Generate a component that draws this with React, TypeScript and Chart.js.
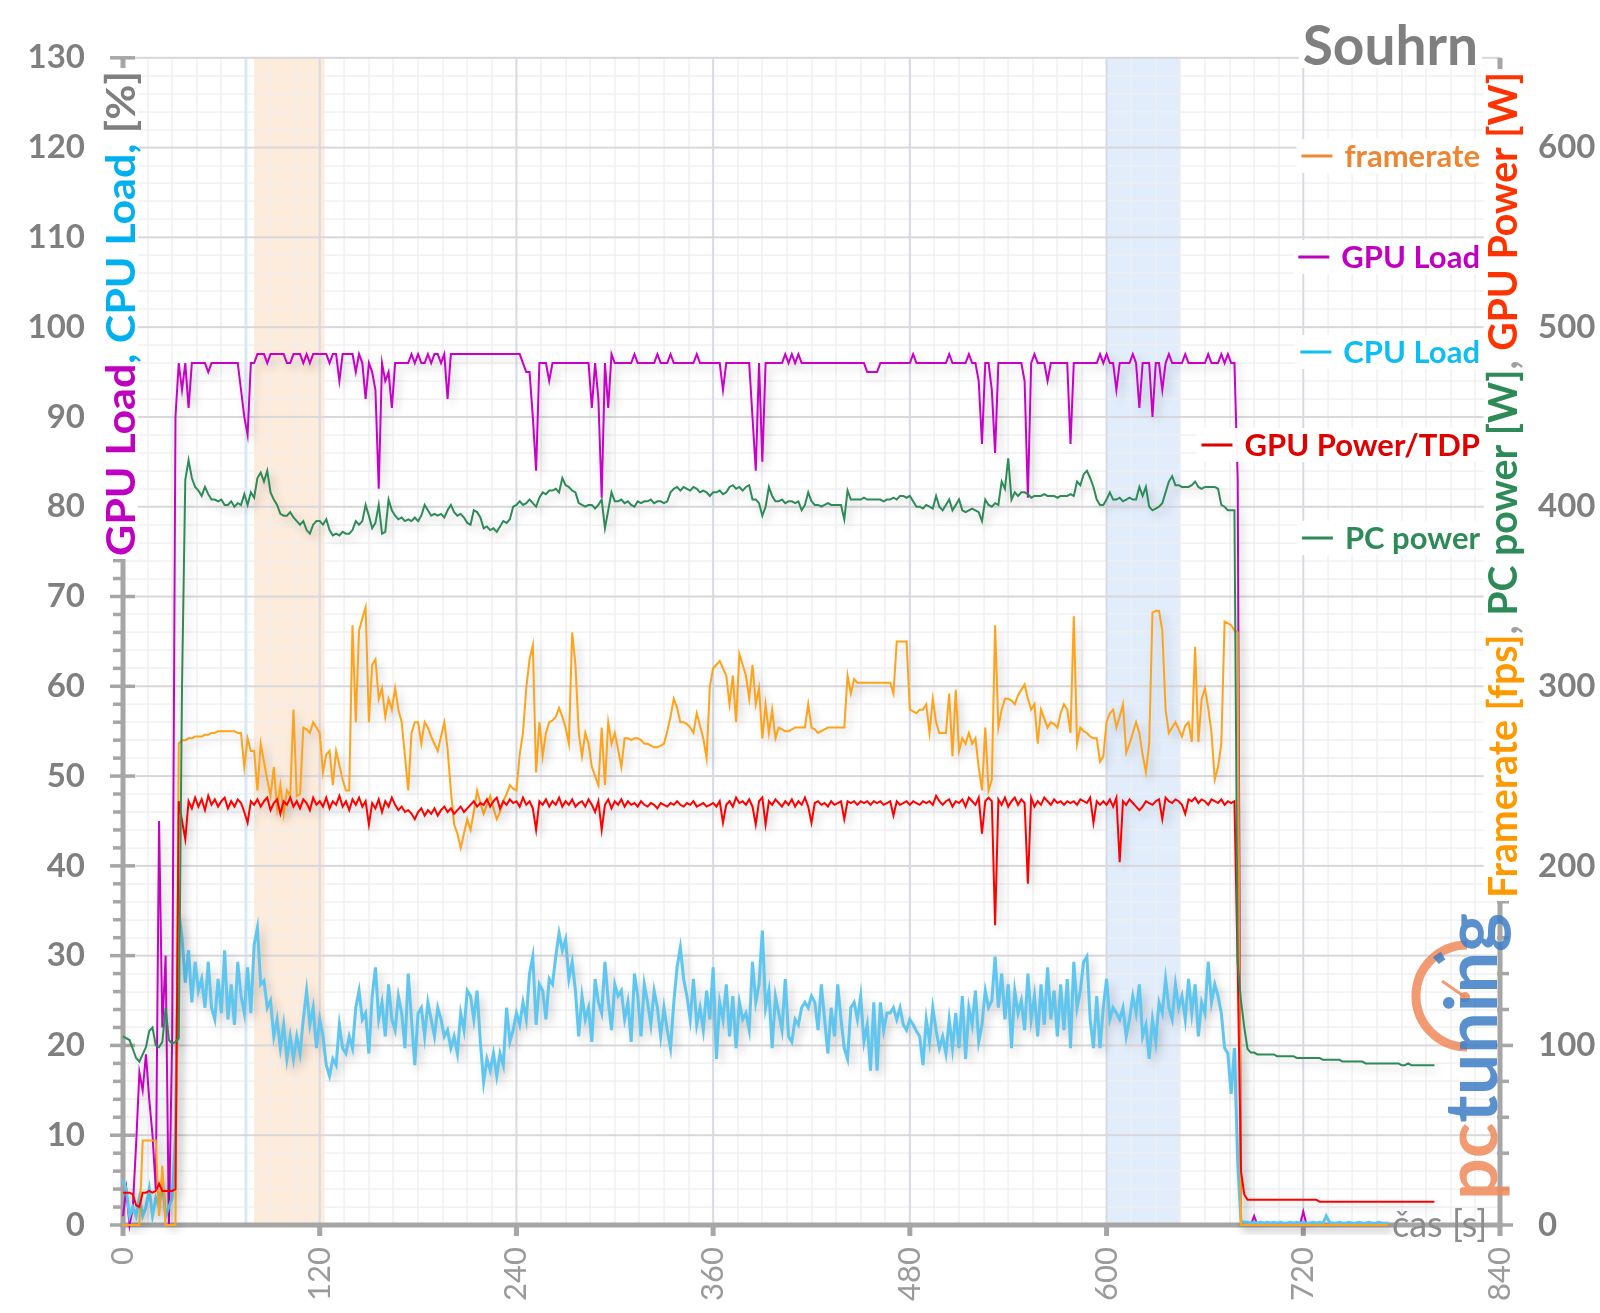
import React, { useEffect, useRef } from 'react';
import { Chart, registerables } from 'chart.js';

Chart.register(...registerables);

// ---------- data (sample interval STEP seconds, first sample at t = 0) ----------
const STEP = 2;

const GPU_LOAD = [
  1, 4, 0, 2, 9, 17, 15, 19, 14, 10,
  4, 45, 22, 30, 0, 21, 90, 96, 93, 96,
  91, 96, 96, 96, 96, 96, 95, 96, 96, 96,
  96, 96, 96, 96, 96, 96, 93, 90, 88, 96,
  96, 97, 97, 97, 96, 97, 97, 97, 97, 97,
  96, 96, 97, 97, 97, 96, 97, 96, 97, 97,
  97, 97, 97, 96, 97, 97, 94, 97, 97, 97,
  97, 95, 97, 96, 92, 96, 95, 93, 82, 96,
  94, 95, 91, 96, 96, 96, 96, 96, 97, 96,
  97, 96, 96, 97, 96, 97, 97, 96, 97, 92,
  97, 97, 97, 97, 97, 97, 97, 97, 97, 97,
  97, 97, 97, 97, 97, 97, 97, 97, 97, 97,
  97, 97, 96, 95, 95, 90, 84, 96, 96, 96,
  94, 96, 96, 96, 96, 96, 96, 96, 96, 96,
  96, 96, 96, 91, 96, 92, 81, 96, 91, 97,
  96, 96, 96, 96, 96, 96, 97, 96, 96, 96,
  96, 96, 96, 97, 96, 96, 96, 97, 96, 96,
  96, 96, 96, 96, 96, 97, 96, 96, 96, 96,
  96, 96, 96, 93, 96, 96, 96, 96, 96, 96,
  96, 96, 90, 84, 96, 85, 96, 96, 96, 96,
  96, 96, 97, 96, 97, 96, 97, 96, 96, 96,
  96, 96, 96, 96, 96, 96, 96, 96, 96, 96,
  96, 96, 96, 96, 96, 96, 96, 95, 95, 95,
  95, 96, 96, 96, 96, 96, 96, 96, 96, 96,
  96, 97, 96, 96, 96, 96, 96, 96, 96, 96,
  96, 96, 97, 96, 96, 96, 96, 96, 97, 96,
  96, 94, 87, 96, 96, 93, 86, 96, 96, 96,
  96, 96, 96, 96, 96, 94, 81, 96, 97, 96,
  96, 96, 94, 96, 96, 96, 96, 96, 96, 87,
  96, 96, 96, 96, 96, 96, 96, 96, 97, 96,
  97, 96, 96, 93, 96, 96, 96, 96, 97, 96,
  91, 96, 96, 96, 90, 96, 96, 93, 96, 97,
  96, 96, 96, 96, 97, 96, 96, 96, 96, 96,
  96, 97, 96, 96, 96, 97, 96, 97, 96, 96,
  83, 0, 0, 0, 0, 1, 0, 0, 0, 0,
  0, 0, 0, 0, 0, 0, 0, 0, 0, 0,
  1.5, 0, 0, 0, 0, 0, 0, 0, 0, 0,
  0, 0, 0, 0, 0, 0, 0, 0, 0, 0,
  0, 0, 0, 0, 0, 0, 0,
];

const CPU_LOAD = [
  5, 4, 1, 2, 1, 3, 1, 2, 4, 1,
  3, 2, 5, 1, 2, 3, 10, 35, 32, 27,
  30.6, 24.8, 29.3, 26.1, 27.4, 24.2, 29.3, 24.2, 22.9, 27.4,
  23.6, 30.6, 22.9, 26.8, 22.3, 29.3, 25.5, 23.6, 28.7, 23.6,
  31.2, 33.1, 26.8, 27.2, 24.2, 25, 21, 22.9, 19.7, 22.3,
  18.5, 21, 18.5, 21, 19.1, 22.9, 26.1, 22.3, 24.2, 19.7,
  22.9, 21, 17.8, 16.6, 18.5, 17.8, 22.3, 19.7, 19.1, 21,
  19.7, 24.2, 26.1, 22.9, 23.6, 19.1, 25.5, 28.7, 22.9, 24.8,
  21, 26.8, 22.9, 21.7, 25.5, 23.6, 19.7, 28, 22.9, 17.8,
  23.6, 24.2, 21, 24.8, 22.9, 21, 24.2, 22.9, 21, 21.7,
  19.7, 21, 19.1, 23.6, 21.7, 26.1, 25.5, 22.9, 26.1, 20.4,
  15.9, 18.5, 17.2, 19.1, 16.6, 19.1, 17.8, 24.2, 20.4, 21.7,
  23.6, 22.3, 24.8, 22.9, 28, 29.9, 22.3, 26.8, 26.1, 22.9,
  27.4, 26.8, 29.9, 32.5, 30.6, 31.8, 27.4, 29.3, 26.1, 21,
  25.5, 22.9, 24.2, 20.4, 27.4, 24.8, 23.6, 29.3, 25, 21.7,
  26.8, 25.5, 26.1, 22.9, 24.8, 20.4, 28, 25.5, 21, 26.8,
  24.8, 22.3, 26.1, 24.2, 21, 24.2, 21.7, 19.7, 24.8, 28.7,
  30.9, 27.4, 25.5, 22.9, 27.4, 22.3, 24.2, 21.7, 26.1, 22.9,
  28.7, 18.5, 24.8, 22.9, 26.8, 21, 25.5, 19.7, 24.8, 22.9,
  23.6, 21.7, 29.3, 24.8, 26.8, 32.8, 24.2, 26.1, 19.7, 25.5,
  23.6, 21.7, 27.4, 21, 20.4, 22.9, 22.3, 24.2, 24.8, 24.2,
  25.5, 24.8, 21.7, 26.8, 22.9, 19.1, 24.2, 21, 26.8, 22.9,
  19.7, 18.5, 24.2, 24.8, 22.9, 25.5, 20.4, 22.3, 17.2, 24.8,
  17.2, 24.8, 21.7, 23.6, 23.6, 24.2, 22.9, 24.2, 22.3, 21.7,
  22.9, 22.3, 21.6, 21, 17.8, 22.9, 20.4, 24.2, 21.7, 19.7,
  21, 19.1, 22.9, 19.7, 23.6, 19.7, 25.5, 18.5, 24.2, 22.3,
  26.1, 20.4, 22.3, 26.1, 24.2, 25, 29.9, 24.2, 28, 22.9,
  26.8, 19.7, 26.1, 23.6, 25, 21.7, 28, 22.9, 25.5, 21,
  26.8, 22.3, 28.7, 22.9, 26.1, 21, 26.8, 21.7, 27.4, 19.7,
  29.3, 24.2, 26.1, 29.3, 29.9, 22.9, 19.7, 25.5, 19.7, 24.2,
  27.4, 22.9, 24.2, 23.6, 22.9, 24.2, 21, 22.9, 25.5, 23.6,
  26.8, 21, 22.3, 18.5, 22.9, 20.4, 24.8, 23.6, 27.4, 24.2,
  22.9, 26.8, 24.2, 25.5, 22.9, 27.4, 23.6, 26.8, 21, 24.8,
  23.6, 29.3, 24.8, 26.8, 25.5, 23.6, 19.7, 19.1, 14.6, 19.7,
  7, 0.4, 0.3, 0.3, 0.2, 0.3, 0.2, 0.3, 0.2, 0.3,
  0.2, 0.3, 0.2, 0.3, 0.2, 0.2, 0.3, 0.2, 0.3, 0.2,
  0.3, 0.2, 0.2, 0.3, 0.2, 0.3, 0.2, 1, 0.3, 0.2,
  0.2, 0.3, 0.2, 0.2, 0.3, 0.2, 0.2, 0.3, 0.2, 0.2,
  0.3, 0.2, 0.2, 0.3, 0.2, 0.2, 0.2,
];

const FRAMERATE = [
  0, 0, 0, 0, 0, 0, 47, 47, 47, 47,
  47, 5, 33, 0, 0, 0, 0, 268, 270, 270,
  271, 271, 272, 272, 272, 273, 273, 274, 274, 275,
  275, 275, 275, 275, 275, 274, 274, 255, 271, 264,
  264, 242, 268, 258, 248, 239, 255, 232, 245, 229,
  242, 239, 287, 239, 240, 277, 276, 274, 280, 277,
  274, 252, 262, 264, 245, 264, 256, 248, 242, 242,
  334, 280, 331, 338, 344, 280, 312, 315, 293, 299,
  283, 293, 287, 299, 287, 280, 261, 242, 274, 280,
  280, 268, 280, 277, 272, 268, 264, 272, 280, 265,
  242, 223, 218, 210, 218, 226, 220, 230, 242, 235,
  229, 234, 239, 232, 226, 230, 236, 240, 245, 243,
  242, 262, 274, 299, 315, 323, 252, 280, 261, 274,
  280, 281, 283, 288, 283, 277, 268, 330, 312, 274,
  261, 274, 268, 255, 250, 245, 277, 245, 280, 268,
  274, 265, 255, 271, 271, 270, 271, 271, 270, 268,
  268, 267, 266, 266, 267, 268, 275, 283, 293, 288,
  280, 280, 279, 277, 274, 285, 278, 271, 260, 300,
  310, 312, 314, 310, 306, 290, 306, 280, 318, 312,
  306, 293, 312, 290, 299, 271, 290, 274, 287, 271,
  277, 276, 275, 275, 276, 277, 277, 277, 277, 290,
  277, 276, 274, 275, 276, 277, 277, 277, 277, 277,
  277, 306, 296, 304, 302, 302, 302, 302, 302, 302,
  302, 302, 302, 302, 302, 296, 325, 325, 325, 325,
  287, 286, 285, 287, 287, 290, 274, 293, 280, 274,
  274, 274, 296, 261, 298, 264, 271, 268, 274, 268,
  271, 255, 242, 277, 242, 248, 334, 277, 287, 293,
  293, 292, 290, 295, 298, 301, 293, 287, 290, 268,
  287, 282, 277, 280, 279, 277, 285, 290, 287, 274,
  339, 268, 277, 275, 274, 272, 271, 271, 258, 261,
  280, 285, 287, 277, 283, 290, 263, 268, 274, 280,
  274, 262, 252, 268, 341, 342, 342, 331, 287, 274,
  277, 280, 276, 272, 278, 280, 269, 322, 269, 293,
  299, 288, 274, 248, 255, 268, 336, 335, 334, 331,
  330, 0, 0, 0, 0, 0, 0, 0, 0, 0,
  0, 0, 0, 0, 0, 0, 0, 0, 0, 0,
  0, 0, 0, 0, 0, 0, 0, 0, 0, 0,
  0, 0, 0, 0, 0, 0, 0, 0, 0, 0,
  0, 0, 0, 0, 0, 0, 0,
];

const GPU_POWER = [
  18, 18, 18, 17, 11, 10, 18, 18, 19, 18,
  19, 23, 19, 19, 19, 19, 20, 236, 225, 215,
  236, 232, 238, 233, 237, 231, 239, 234, 237, 233,
  236, 238, 232, 236, 233, 237, 235, 230, 224, 236,
  234, 237, 233, 236, 238, 231, 235, 237, 229, 236,
  234, 238, 233, 236, 232, 237, 235, 231, 238, 234,
  236, 233, 238, 232, 236, 234, 239, 233, 236, 231,
  237, 234, 238, 233, 236, 223, 235, 232, 237, 230,
  236, 233, 238, 234, 231, 233, 230, 231, 229, 226,
  230, 232, 228, 231, 229, 232, 228, 231, 233, 230,
  232, 229, 231, 233, 230, 232, 234, 236, 233, 235,
  234, 237, 233, 236, 238, 232, 236, 234, 237, 235,
  236, 233, 238, 234, 236, 232, 220, 236, 234, 237,
  233, 236, 234, 238, 233, 236, 234, 237, 233, 235,
  236, 233, 237, 234, 230, 236, 220, 234, 237, 232,
  236, 234, 237, 233, 236, 234, 235, 233, 236, 234,
  233, 235, 234, 232, 235, 234, 233, 235, 234, 236,
  234, 233, 235, 234, 236, 233, 234, 235, 233, 234,
  235, 233, 236, 224, 234, 236, 233, 238, 235, 236,
  234, 237, 233, 223, 236, 238, 223, 236, 234, 237,
  235, 233, 236, 234, 237, 233, 236, 234, 238, 233,
  224, 235, 236, 234, 235, 233, 236, 234, 235, 236,
  226, 236, 235, 236, 234, 236, 235, 236, 234, 236,
  235, 236, 234, 235, 236, 228, 236, 234, 235, 236,
  234, 236, 235, 234, 236, 235, 236, 234, 239, 236,
  234, 236, 237, 233, 236, 235, 237, 233, 238, 236,
  234, 238, 218, 236, 238, 236, 167, 237, 234, 238,
  233, 236, 238, 234, 237, 235, 190, 238, 233, 236,
  234, 238, 236, 234, 237, 235, 236, 234, 236, 235,
  236, 234, 237, 236, 235, 238, 224, 236, 234, 236,
  234, 237, 233, 238, 202, 236, 234, 237, 235, 233,
  231, 233, 236, 235, 234, 236, 237, 226, 238, 236,
  235, 237, 236, 234, 229, 237, 236, 238, 235, 237,
  236, 234, 237, 236, 235, 237, 234, 236, 235, 236,
  143, 30, 17, 14, 14, 14, 14, 14, 14, 14,
  14, 14, 14, 14, 14, 14, 14, 14, 14, 14,
  14, 14, 14, 14, 14, 13, 13, 13, 13, 13,
  13, 13, 13, 13, 13, 13, 13, 13, 13, 13,
  13, 13, 13, 13, 13, 13, 13, 13, 13, 13,
  13, 13, 13, 13, 13, 13, 13, 13, 13, 13,
  13,
];

const PC_POWER = [
  105, 104, 103, 98, 93, 91, 95, 99, 108, 110,
  100, 99, 102, 121, 103, 101, 102, 104, 300, 415,
  426, 416, 411, 409, 406, 411, 407, 404, 404, 403,
  404, 401, 401, 403, 400, 402, 401, 407, 401, 408,
  405, 416, 419, 414, 420, 408, 404, 401, 396, 395,
  395, 397, 394, 392, 390, 392, 387, 385, 390, 392,
  392, 390, 393, 387, 384, 385, 384, 386, 385, 385,
  387, 392, 390, 392, 401, 395, 388, 391, 401, 385,
  386, 404, 398, 395, 393, 394, 392, 393, 392, 394,
  392, 395, 401, 398, 395, 396, 395, 396, 394, 398,
  401, 397, 395, 396, 394, 391, 390, 398, 397, 394,
  388, 389, 387, 388, 386, 389, 392, 391, 393, 400,
  401, 403, 401, 402, 404, 402, 400, 405, 408, 407,
  409, 409, 410, 408, 416, 412, 411, 409, 408, 402,
  401, 400, 401, 401, 399, 401, 404, 388, 398, 408,
  403, 403, 404, 402, 403, 401, 400, 403, 402, 403,
  403, 404, 402, 403, 403, 402, 403, 408, 410, 411,
  409, 411, 410, 409, 411, 410, 408, 409, 408, 406,
  408, 408, 409, 407, 408, 411, 412, 410, 411, 409,
  411, 412, 404, 404, 402, 395, 400, 411, 406, 403,
  403, 404, 402, 403, 403, 402, 403, 398, 401, 408,
  403, 401, 401, 400, 401, 402, 401, 401, 401, 401,
  393, 409, 404, 404, 404, 404, 405, 404, 404, 404,
  404, 404, 403, 404, 404, 405, 404, 406, 406, 405,
  406, 403, 400, 400, 399, 401, 400, 399, 406, 400,
  398, 401, 404, 398, 401, 404, 398, 397, 398, 399,
  398, 397, 392, 404, 401, 400, 402, 401, 414, 410,
  427, 404, 408, 406, 408, 408, 407, 405, 406, 406,
  406, 407, 406, 406, 406, 405, 406, 406, 406, 407,
  406, 414, 412, 418, 420, 416, 411, 404, 401, 401,
  404, 408, 404, 404, 405, 403, 404, 405, 404, 404,
  411, 406, 411, 400, 398, 399, 400, 402, 408, 414,
  417, 412, 412, 411, 411, 411, 412, 414, 411, 410,
  411, 411, 411, 411, 410, 401, 400, 398, 398, 398,
  146, 125, 110, 98, 96, 96, 95, 95, 95, 95,
  95, 95, 94, 94, 94, 94, 94, 94, 93, 93,
  93, 93, 93, 93, 93, 93, 92, 92, 92, 92,
  92, 92, 91, 91, 91, 91, 91, 91, 91, 90,
  90, 90, 90, 90, 90, 90, 90, 90, 90, 90,
  89, 89, 90, 89, 89, 89, 89, 89, 89, 89,
  89,
];

const X_TICKS = [0, 120, 240, 360, 480, 600, 720, 840];
const LEFT_TICKS = [0, 10, 20, 30, 40, 50, 60, 70, 80, 90, 100, 110, 120, 130];
const RIGHT_TICKS = [0, 100, 200, 300, 400, 500, 600];

// shaded time ranges [s]
const BAND_ORANGE = [80, 123];
const BAND_BLUE = [600, 645];
const MARKER_T = 75;

const LEGEND_LABELS = ['framerate', 'GPU Load', 'CPU Load', 'GPU Power/TDP', 'PC power'];

// ---------- styles / layout ----------
const C_FPS = '#ffa31a';
const C_GPU = '#c800c8';
const C_CPU = '#5ec6ef';
const C_GPW = '#ff0000';
const C_PCW = '#2e8b57';
const LEGEND_TEXT_COLORS = ['#ee8530', '#c000c0', '#10bdf0', '#e00000', '#2e8b57'];
const LEGEND_LINE_COLORS = ['#f08a30', '#c000c0', '#10bdf0', '#e00000', '#2e8b57'];
const LEGEND_Y = [156, 257, 352, 445, 538];
const AXIS_GRAY = '#a6a6a6';
const FONT = 'Lato';

const pts = (arr: number[]) => arr.map((v, i) => ({ x: i * STEP, y: v }));

function drawRotated(
  ctx: CanvasRenderingContext2D,
  segs: { text: string; color: string }[],
  baseX: number,
  baseY: number,
  len: number,
  size: number,
) {
  ctx.save();
  ctx.translate(baseX, baseY);
  ctx.rotate(-Math.PI / 2);
  ctx.font = `bold ${size}px ${FONT}`;
  const widths = segs.map((s) => ctx.measureText(s.text).width);
  const total = widths.reduce((a, b) => a + b, 0);
  const cap = size * 0.74;
  ctx.fillStyle = '#ffffff';
  ctx.fillRect(-3, -cap - 3, len + 6, cap + 6);
  ctx.scale(len / total, 1);
  ctx.textAlign = 'left';
  ctx.textBaseline = 'alphabetic';
  let x = 0;
  segs.forEach((s, i) => {
    ctx.fillStyle = s.color;
    ctx.fillText(s.text, x, 0);
    x += widths[i];
  });
  ctx.restore();
}

const decorPlugin = {
  id: 'decor',
  beforeDraw(chart: any) {
    const ctx: CanvasRenderingContext2D = chart.ctx;
    ctx.save();
    ctx.fillStyle = '#ffffff';
    ctx.fillRect(0, 0, chart.width, chart.height);
    ctx.restore();
  },
  beforeDatasetsDraw(chart: any) {
    const ctx: CanvasRenderingContext2D = chart.ctx;
    const { left, right, top, bottom } = chart.chartArea;
    const xs = chart.scales.x;
    const yl = chart.scales.y;
    const yr = chart.scales.y2;
    ctx.save();
    // bands
    const band = (r: number[], color: string) => {
      const a = xs.getPixelForValue(r[0]);
      const b = xs.getPixelForValue(r[1]);
      ctx.fillStyle = color;
      ctx.fillRect(a, top, b - a, bottom - top);
    };
    band(BAND_ORANGE, 'rgb(253,235,220)');
    band(BAND_BLUE, 'rgb(226,237,252)');
    // minor grid (opaque light gray)
    ctx.fillStyle = 'rgb(238,238,240)';
    for (let v = 0; v <= 130; v += 2) {
      if (v % 10 === 0) continue;
      const y = Math.round(yl.getPixelForValue(v));
      ctx.fillRect(left, y - 0.6, right - left, 1.3);
    }
    for (let t = 0; t <= 840; t += 15) {
      if (t % 120 === 0) continue;
      const x = Math.round(xs.getPixelForValue(t));
      ctx.fillRect(x - 0.6, top, 1.3, bottom - top);
    }
    // marker line
    const mx = xs.getPixelForValue(MARKER_T);
    ctx.fillStyle = 'rgb(216,234,250)';
    ctx.fillRect(mx - 1.5, top, 3, bottom - top);
    // major grid
    ctx.fillStyle = 'rgb(216,216,219)';
    for (let v = 10; v <= 130; v += 10) {
      const y = yl.getPixelForValue(v);
      ctx.fillRect(left, y - 1, right - left, 2);
    }
    ctx.fillStyle = 'rgb(214,218,230)';
    for (const t of X_TICKS) {
      if (t === 0 || t === 840) continue;
      const x = xs.getPixelForValue(t);
      ctx.fillRect(x - 1, top, 2, bottom - top);
    }
    // axes
    ctx.fillStyle = AXIS_GRAY;
    ctx.fillRect(left - 2.5, top, 5, bottom - top + 2.5);
    for (let v = 0; v <= 130; v += 2) {
      const y = yl.getPixelForValue(v);
      if (v % 10 === 0) ctx.fillRect(left - 13, y - 1.75, 25, 3.5);
      else ctx.fillRect(left - 10, y - 1.75, 10, 3.5);
    }
    ctx.fillRect(right - 2.5, top, 5, bottom - top + 2.5);
    for (let w = 0; w <= 640; w += 20) {
      const y = yr.getPixelForValue(w);
      if (w % 100 === 0) ctx.fillRect(right - 4, y - 1.75, 17, 3.5);
      else ctx.fillRect(right - 3, y - 1.75, 12, 3.5);
    }
    ctx.fillRect(left - 2.5, bottom - 2.5, right - left + 5, 5);
    for (const t of X_TICKS) {
      const x = xs.getPixelForValue(t);
      ctx.fillRect(x - 2.5, bottom, 5, 11);
    }
    ctx.restore();
  },
  beforeDatasetDraw(chart: any) {
    const ctx: CanvasRenderingContext2D = chart.ctx;
    ctx.save();
    ctx.shadowColor = 'rgba(0,0,0,0.2)';
    ctx.shadowBlur = 10;
    ctx.shadowOffsetX = 4;
    ctx.shadowOffsetY = 5;
  },
  afterDatasetDraw(chart: any) {
    chart.ctx.restore();
  },
  afterDraw(chart: any) {
    const ctx: CanvasRenderingContext2D = chart.ctx;
    ctx.save();
    // Souhrn
    ctx.font = `bold 55px ${FONT}`;
    const sw = ctx.measureText('Souhrn').width;
    ctx.fillStyle = '#ffffff';
    ctx.fillRect(1478 - sw - 4, 18, sw + 8, 50);
    ctx.fillStyle = '#7f7f7f';
    ctx.textAlign = 'right';
    ctx.textBaseline = 'alphabetic';
    ctx.fillText('Souhrn', 1478, 65);

    // legend
    ctx.font = `bold 31px ${FONT}`;
    ctx.textBaseline = 'middle';
    LEGEND_LABELS.forEach((label, i) => {
      const w = ctx.measureText(label).width;
      const xr = 1480;
      const xt = xr - w;
      const y = LEGEND_Y[i];
      ctx.fillStyle = 'rgba(255,255,255,0.95)';
      ctx.fillRect(xt - 48, y - 17, w + 52, 34);
      ctx.fillStyle = LEGEND_LINE_COLORS[i];
      ctx.fillRect(xt - 43, y - 1.5, 31, 3);
      ctx.fillStyle = LEGEND_TEXT_COLORS[i];
      ctx.textAlign = 'left';
      ctx.fillText(label, xt, y + 1);
    });

    // axis titles
    drawRotated(
      ctx,
      [
        { text: 'GPU Load', color: '#c000c0' },
        { text: ', ', color: '#00b0f0' },
        { text: 'CPU Load', color: '#00b0f0' },
        { text: ', ', color: '#00b0f0' },
        { text: '[%]', color: '#7f7f7f' },
      ],
      135, 556, 485, 40,
    );
    drawRotated(
      ctx,
      [
        { text: 'Framerate [fps]', color: '#ff9900' },
        { text: ', ', color: '#a0a0a0' },
        { text: 'PC power [W]', color: '#2e8b57' },
        { text: ', ', color: '#a0a0a0' },
        { text: 'GPU Power [W]', color: '#ff3300' },
      ],
      1517, 898, 826, 41,
    );

    // čas [s]
    ctx.font = `36px ${FONT}`;
    ctx.textAlign = 'left';
    ctx.textBaseline = 'alphabetic';
    ctx.fillStyle = '#8c8c8c';
    ctx.fillText('čas [s]', 1392, 1237);

    // watermark logo
    ctx.globalAlpha = 0.85;
    ctx.strokeStyle = '#f08a5a';
    ctx.lineWidth = 9;
    ctx.beginPath();
    ctx.arc(1467, 996, 51, -Math.PI / 2, Math.PI / 2, true);
    ctx.stroke();
    ctx.strokeStyle = '#3c7cc4';
    ctx.beginPath();
    ctx.arc(1467, 996, 47, -Math.PI * 0.73, -Math.PI * 0.67);
    ctx.stroke();
    ctx.strokeStyle = '#f08a5a';
    ctx.lineWidth = 3;
    ctx.beginPath();
    ctx.moveTo(1465, 997);
    ctx.lineTo(1442, 981);
    ctx.stroke();
    ctx.fillStyle = '#f08a5a';
    ctx.beginPath();
    ctx.arc(1465, 997, 5, 0, Math.PI * 2);
    ctx.fill();
    ctx.translate(1497, 1200);
    ctx.rotate(-Math.PI / 2);
    ctx.font = `bold 72px ${FONT}`;
    const w1 = ctx.measureText('pc').width;
    const w2 = ctx.measureText('tuning').width;
    ctx.scale(287 / (w1 + w2), 1);
    ctx.textAlign = 'left';
    ctx.fillStyle = '#f08a5a';
    ctx.fillText('pc', 0, 0);
    ctx.fillStyle = '#3c7cc4';
    ctx.fillText('tuning', w1, 0);
    ctx.restore();
  },
};

export default function App() {
  const ref = useRef<HTMLCanvasElement>(null);
  useEffect(() => {
    if (!ref.current) return;
    const line = (label: string, data: number[], color: string, axis: string, width: number) => ({
      label,
      data: pts(data),
      borderColor: color,
      backgroundColor: color,
      borderWidth: width,
      pointRadius: 0,
      tension: 0,
      fill: false,
      yAxisID: axis,
      clip: 10,
    });
    const chart = new Chart(ref.current, {
      type: 'line',
      data: {
        datasets: [
          line('PC power', PC_POWER, C_PCW, 'y2', 2),
          line('GPU Power/TDP', GPU_POWER, C_GPW, 'y2', 2),
          line('framerate', FRAMERATE, C_FPS, 'y2', 2),
          line('CPU Load', CPU_LOAD, C_CPU, 'y', 3),
          line('GPU Load', GPU_LOAD, C_GPU, 'y', 2),
        ] as any,
      },
      options: {
        responsive: false,
        animation: false,
        devicePixelRatio: 1,
        events: [],
        layout: { padding: { top: 53, left: 0, right: 0, bottom: 0 } },
        plugins: { legend: { display: false }, tooltip: { enabled: false }, title: { display: false } },
        scales: {
          x: {
            type: 'linear',
            min: 0,
            max: 840,
            afterBuildTicks: (s: any) => { s.ticks = X_TICKS.map((v) => ({ value: v })); },
            afterFit: (s: any) => { s.height = 88; },
            grid: { display: false, drawTicks: false },
            border: { display: false },
            ticks: {
              autoSkip: false,
              minRotation: 90,
              maxRotation: 90,
              padding: 22,
              color: '#9a9a9a',
              font: { family: FONT, size: 31 },
              callback: (v: any) => String(v),
            },
          },
          y: {
            position: 'left',
            min: 0,
            max: 130,
            afterBuildTicks: (s: any) => { s.ticks = LEFT_TICKS.map((v) => ({ value: v })); },
            afterFit: (s: any) => { s.width = 123; },
            grid: { display: false, drawTicks: false },
            border: { display: false },
            ticks: {
              padding: 38,
              color: '#7f7f7f',
              font: { family: FONT, size: 33, weight: 'bold' },
              callback: (v: any) => String(v),
            },
          },
          y2: {
            position: 'right',
            min: 0,
            max: 650,
            afterBuildTicks: (s: any) => { s.ticks = RIGHT_TICKS.map((v) => ({ value: v })); },
            afterFit: (s: any) => { s.width = 100; },
            grid: { display: false, drawTicks: false },
            border: { display: false },
            ticks: {
              padding: 38,
              color: '#7f7f7f',
              font: { family: FONT, size: 33, weight: 'bold' },
              callback: (v: any) => String(v),
            },
          },
        },
      } as any,
      plugins: [decorPlugin],
    });
    return () => chart.destroy();
  }, []);
  return (
    <div style={{ position: 'absolute', left: 0, top: 0, width: 1600, height: 1313, background: '#fff' }}>
      <canvas ref={ref} width={1600} height={1313} style={{ display: 'block' }} />
    </div>
  );
}
